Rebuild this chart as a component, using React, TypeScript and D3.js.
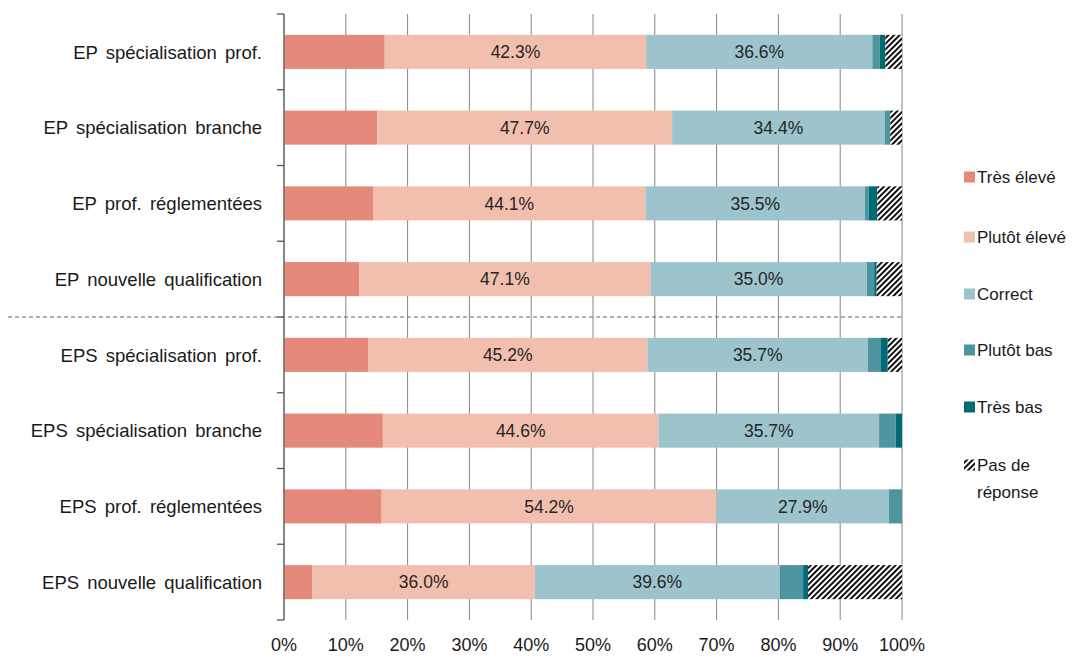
import React from "react";
import * as d3 from "d3";

const categories = [
  "EP spécialisation prof.",
  "EP spécialisation branche",
  "EP prof. réglementées",
  "EP nouvelle qualification",
  "EPS spécialisation prof.",
  "EPS spécialisation branche",
  "EPS prof. réglementées",
  "EPS nouvelle qualification",
];

const seriesNames = ["Très élevé", "Plutôt élevé", "Correct", "Plutôt bas", "Très bas", "Pas de réponse"];

const tresEleve = [16.3, 15.1, 14.4, 12.2, 13.6, 16.0, 15.8, 4.6];
const plutotEleve = [42.3, 47.7, 44.1, 47.1, 45.2, 44.6, 54.2, 36.0];
const correct = [36.6, 34.4, 35.5, 35.0, 35.7, 35.7, 27.9, 39.6];
const plutotBas = [1.2, 0.9, 0.6, 1.2, 2.1, 2.7, 2.1, 3.8];
const tresBas = [0.9, 0.0, 1.4, 0.4, 1.1, 1.0, 0.0, 0.8];
const pasDeReponse = [2.7, 1.9, 4.0, 4.1, 2.3, 0.0, 0.0, 15.2];

const xTicks = [0, 10, 20, 30, 40, 50, 60, 70, 80, 90, 100];

const colors = ["#E5897A", "#F2BFAE", "#9DC3CC", "#4F94A1", "#006B72", "url(#hatch)"];
const labelled = [false, true, true, false, false, false];

export default function App() {
  const W = 1072, H = 657;
  const left = 284, right = 902, top = 14, bottom = 620;
  const x = d3.scaleLinear().domain([0, 100]).range([left, right]);
  const y = d3.scaleBand<string>().domain(categories).range([top, bottom]).paddingInner(0.55).paddingOuter(0.275);
  const yb = d3.scaleBand<string>().domain(categories).range([top, bottom]);
  const seriesData = [tresEleve, plutotEleve, correct, plutotBas, tresBas, pasDeReponse];
  const font = "'Liberation Sans', Arial, sans-serif";

  const legendY = [177, 237, 294, 350, 407, 465];

  return (
    <svg width={W} height={H} style={{ position: "absolute", left: 0, top: 0, background: "#fff" }}>
      <defs>
        <pattern id="hatch" patternUnits="userSpaceOnUse" width="4" height="4" patternTransform="rotate(45)">
          <rect width="4" height="4" fill="#fff" />
          <rect width="2" height="4" fill="#111" />
        </pattern>
      </defs>
      {/* gridlines */}
      {xTicks.map((t) => (
        <line key={"g" + t} x1={x(t)} x2={x(t)} y1={top} y2={bottom} stroke="#858585" strokeWidth={1} />
      ))}
      {/* bars */}
      {categories.map((c, i) => {
        let acc = 0;
        return (
          <g key={c}>
            {seriesData.map((s, k) => {
              const v = s[i];
              const x0 = x(acc);
              acc += v;
              const x1 = x(acc);
              if (v <= 0) return null;
              return (
                <g key={k}>
                  <rect x={x0} y={y(c)!} width={x1 - x0} height={y.bandwidth()} fill={colors[k]} />
                  {labelled[k] && (
                    <text x={(x0 + x1) / 2} y={y(c)! + y.bandwidth() / 2} dy="0.36em" textAnchor="middle"
                      fontFamily={font} fontSize={17.5} fill="#262626">
                      {v.toFixed(1) + "%"}
                    </text>
                  )}
                </g>
              );
            })}
          </g>
        );
      })}
      {/* left axis */}
      <line x1={left} x2={left} y1={top} y2={bottom} stroke="#666" strokeWidth={1.3} />
      {[...categories.map((c) => yb(c)!), bottom].map((v, i) => (
        <line key={"t" + i} x1={left - 7} x2={left} y1={v} y2={v} stroke="#555" strokeWidth={1.3} />
      ))}
      {/* dashed separator */}
      <line x1={8} x2={right} y1={yb(categories[4])!} y2={yb(categories[4])!} stroke="#666" strokeWidth={1} strokeDasharray="4,3" />
      {/* category labels */}
      {categories.map((c) => (
        <text key={"l" + c} x={262} y={y(c)! + y.bandwidth() / 2} dy="0.36em" textAnchor="end"
          fontFamily={font} fontSize={18.5} fill="#1a1a1a" wordSpacing="3">
          {c}
        </text>
      ))}
      {/* x tick labels */}
      {xTicks.map((t) => (
        <text key={"x" + t} x={x(t)} y={645} dy="0.36em" textAnchor="middle" fontFamily={font} fontSize={18} fill="#1a1a1a">
          {t + "%"}
        </text>
      ))}
      {/* legend */}
      {seriesNames.map((n, k) => (
        <g key={"lg" + n}>
          <rect x={964} y={legendY[k] - 5.5} width={11} height={11} fill={colors[k]} />
          {k < 5 ? (
            <text x={977} y={legendY[k]} dy="0.36em" fontFamily={font} fontSize={17} fill="#1a1a1a">{n}</text>
          ) : (
            <text x={977} y={legendY[k]} dy="0.36em" fontFamily={font} fontSize={17} fill="#1a1a1a">
              <tspan x={977}>Pas de</tspan>
              <tspan x={977} dy="27">réponse</tspan>
            </text>
          )}
        </g>
      ))}
    </svg>
  );
}
